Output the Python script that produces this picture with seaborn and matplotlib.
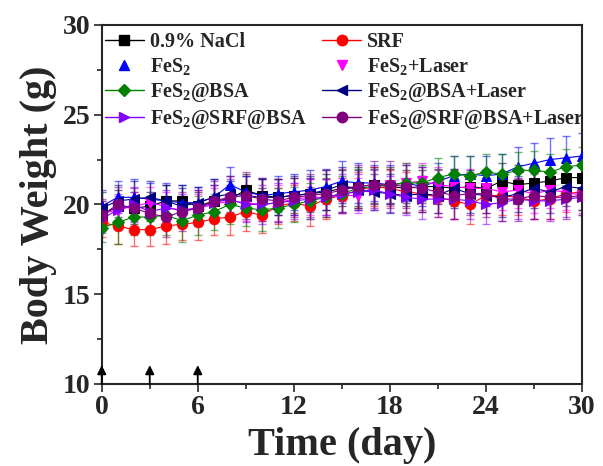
import numpy as np
import pandas as pd
import matplotlib
matplotlib.use('Agg')
import matplotlib.pyplot as plt
import seaborn as sns
from matplotlib.lines import Line2D

days = list(range(31))

labels = ['0.9% NaCl', 'SRF', 'FeS$_2$', 'FeS$_2$+Laser',
          'FeS$_2$@BSA', 'FeS$_2$@BSA+Laser',
          'FeS$_2$@SRF@BSA', 'FeS$_2$@SRF@BSA+Laser']

nacl = [19.4, 19.9, 19.8, 19.9, 20.2, 20.2, 19.9, 20.2, 20.3, 20.8, 20.5,
        20.4, 20.5, 20.6, 20.7, 20.9, 21.0, 21.1, 21.0, 20.9, 21.0,
        21.0, 20.9, 21.0, 20.9, 21.3, 21.1, 21.2, 21.3, 21.5, 21.5]
srf = [19.0, 18.8, 18.6, 18.6, 18.8, 18.9, 19.0, 19.2, 19.3, 19.6, 19.4,
       19.9, 20.1, 19.9, 20.3, 20.5, 20.8, 21.0, 20.9, 20.7, 20.6,
       20.4, 20.2, 20.0, 20.5, 20.5, 20.4, 20.2, 20.3, 20.6, 20.7]
fes2 = [19.9, 20.4, 20.4, 20.3, 20.2, 20.1, 20.1, 20.4, 21.1, 20.7, 20.5,
        20.6, 20.7, 20.8, 21.0, 21.3, 21.2, 21.2, 21.1, 21.2, 21.0,
        21.3, 21.6, 21.7, 21.6, 21.7, 22.1, 22.3, 22.5, 22.6, 22.7]
fes2_laser = [19.5, 19.7, 19.9, 20.1, 19.9, 19.6, 19.8, 20.0, 20.2, 20.1, 20.0,
              20.1, 20.3, 20.4, 20.4, 20.5, 20.5, 21.0, 21.1, 21.2, 21.3,
              21.1, 21.0, 20.9, 20.9, 20.7, 20.8, 20.6, 20.8, 20.7, 20.5]
fes2_bsa = [18.7, 19.0, 19.3, 19.3, 19.4, 19.1, 19.4, 19.6, 20.0, 19.8, 19.7,
            19.8, 20.0, 20.2, 20.4, 20.6, 20.9, 21.0, 21.1, 21.2, 21.2,
            21.5, 21.7, 21.6, 21.8, 21.7, 21.9, 21.9, 21.8, 22.1, 22.2]
fes2_bsa_laser = [19.8, 20.2, 20.3, 20.4, 20.2, 19.9, 20.1, 20.4, 20.6, 20.5, 20.4,
                  20.4, 20.5, 20.6, 20.8, 21.1, 20.8, 20.7, 20.6, 20.5, 20.6,
                  20.5, 20.9, 20.6, 20.5, 20.4, 20.6, 20.9, 20.7, 21.0, 20.9]
fes2_srf_bsa = [19.2, 19.7, 20.0, 19.6, 19.8, 19.7, 19.8, 20.1, 20.3, 20.0, 20.0,
                20.1, 20.2, 20.3, 20.4, 20.6, 20.7, 20.8, 20.6, 20.4, 20.3,
                20.3, 20.3, 20.2, 20.0, 20.1, 20.3, 20.2, 20.2, 20.3, 20.4]
fes2_srf_bsa_laser = [19.4, 20.0, 19.8, 19.5, 19.3, 19.6, 19.8, 20.2, 20.4, 20.5, 20.3,
                      20.2, 20.4, 20.5, 20.6, 20.8, 21.0, 21.1, 21.1, 21.0, 20.9,
                      20.7, 20.5, 20.6, 20.6, 20.3, 20.3, 20.5, 20.4, 20.4, 20.5]

sd_nacl = [0.8, 0.9, 0.9, 0.8, 0.9, 0.9, 0.8, 0.9, 1.0, 0.9, 0.9,
           1.0, 1.0, 0.9, 1.0, 1.0, 1.1, 1.0, 1.0, 1.0, 0.9,
           1.0, 1.0, 0.9, 1.0, 1.0, 1.1, 1.0, 1.0, 1.1, 1.1]
sd_srf = [0.8, 1.0, 0.9, 0.9, 1.0, 0.9, 1.0, 0.9, 1.0, 1.1, 1.0,
          1.0, 1.0, 1.1, 1.1, 1.0, 1.0, 1.1, 1.0, 1.1, 1.0,
          1.1, 1.0, 1.1, 1.0, 1.1, 1.0, 1.0, 1.1, 1.0, 1.0]
sd_fes2 = [0.9, 0.9, 1.0, 0.9, 1.0, 1.0, 0.9, 1.0, 1.0, 0.9, 1.0,
           1.0, 1.0, 1.1, 1.0, 1.1, 1.1, 1.0, 1.1, 1.0, 1.1,
           1.0, 1.1, 1.0, 1.1, 1.1, 1.1, 1.1, 1.2, 1.2, 1.3]
sd_fes2_laser = [0.7, 0.8, 0.8, 0.9, 0.8, 0.9, 0.8, 0.9, 0.9, 1.0, 0.9,
                 1.0, 0.9, 1.0, 1.0, 1.0, 1.0, 1.0, 1.0, 1.1, 1.0,
                 1.0, 1.0, 1.1, 1.0, 1.0, 1.0, 1.1, 1.0, 1.0, 1.0]
sd_fes2_bsa = [0.8, 1.2, 1.0, 1.0, 1.1, 1.2, 1.1, 1.0, 1.1, 1.0, 1.2,
               1.1, 1.0, 1.0, 1.1, 1.0, 1.1, 1.0, 1.0, 1.1, 1.0,
               1.1, 1.0, 1.1, 1.0, 1.1, 1.0, 1.1, 1.0, 1.0, 1.0]
sd_fes2_bsa_laser = [0.9, 0.9, 1.0, 0.9, 0.9, 1.0, 0.9, 1.0, 1.0, 1.1, 1.0,
                     1.0, 1.1, 1.0, 1.1, 1.0, 1.1, 1.0, 1.1, 1.0, 1.0,
                     1.0, 1.1, 1.1, 1.0, 1.1, 1.0, 1.1, 1.2, 1.1, 1.2]
sd_fes2_srf_bsa = [0.8, 0.9, 1.0, 0.9, 1.0, 0.9, 1.0, 1.0, 1.1, 1.0, 1.1,
                   1.1, 1.0, 1.1, 1.0, 1.1, 1.0, 1.1, 1.0, 1.0, 1.1,
                   1.0, 1.1, 1.0, 1.1, 1.0, 1.1, 1.0, 1.1, 1.0, 1.0]
sd_fes2_srf_bsa_laser = [0.9, 1.0, 1.1, 1.0, 1.1, 1.1, 1.0, 1.1, 1.2, 1.3, 1.2,
                         1.2, 1.1, 1.2, 1.3, 1.2, 1.2, 1.3, 1.3, 1.2, 1.2,
                         1.2, 1.3, 1.2, 1.3, 1.2, 1.2, 1.3, 1.2, 1.2, 1.1]

series = [nacl, srf, fes2, fes2_laser, fes2_bsa, fes2_bsa_laser,
          fes2_srf_bsa, fes2_srf_bsa_laser]
errors = [sd_nacl, sd_srf, sd_fes2, sd_fes2_laser, sd_fes2_bsa,
          sd_fes2_bsa_laser, sd_fes2_srf_bsa, sd_fes2_srf_bsa_laser]
colors = ['#000000', '#FF0000', '#0000FF', '#FF00FF',
          '#008000', '#000080', '#8000FF', '#800080']
markers = ['s', 'o', '^', 'v', 'D', '<', '>', 'o']
legend_lines = [True, True, False, False, True, True, True, True]

injection_days = [0, 3, 6]

sns.set_style('ticks')
plt.rcParams['font.family'] = ['Liberation Serif', 'DejaVu Serif']
plt.rcParams['font.weight'] = 'bold'
plt.rcParams['mathtext.default'] = 'regular'

fig = plt.figure(figsize=(6.03, 4.66), dpi=100)
ax = fig.add_axes([0.1687, 0.176, 0.7963, 0.7704])

for vals, err, c, m in zip(series, errors, colors, markers):
    ax.errorbar(days, vals, yerr=err, fmt='none', ecolor=c, elinewidth=1.0,
                capsize=3, capthick=1.0, alpha=0.55, zorder=2)
    ms = 6.5 if m == 'D' else 7.5
    sns.lineplot(x=days, y=vals, color=c, marker=m, markersize=ms,
                 markeredgecolor=c, linewidth=0.8, ax=ax, zorder=3)

for d in injection_days:
    ax.annotate('', xy=(d, 11.05), xytext=(d, 10.0),
                arrowprops=dict(arrowstyle='-|>', color='black', lw=1.3,
                                mutation_scale=13, shrinkA=0, shrinkB=0),
                zorder=5)

ax.set_xlim(0, 30)
ax.set_ylim(10, 30)
ax.set_xticks([0, 6, 12, 18, 24, 30])
ax.set_xticks([3, 9, 15, 21, 27], minor=True)
ax.set_yticks([10, 15, 20, 25, 30])
ax.set_yticks([12.5, 17.5, 22.5, 27.5], minor=True)
ax.tick_params(which='major', direction='out', length=6, width=1.2,
               labelsize=20, pad=2)
ax.tick_params(which='minor', direction='out', length=3.5, width=1.2)
for lab in ax.get_xticklabels() + ax.get_yticklabels():
    lab.set_fontweight('bold')
for sp in ax.spines.values():
    sp.set_linewidth(1.5)
    sp.set_visible(True)

ax.set_xlabel('Time (day)', fontsize=29, fontweight='bold', labelpad=5)
ax.set_ylabel('Body Weight (g)', fontsize=29, fontweight='bold', labelpad=4)

handles = []
for c, m, show, lab in zip(colors, markers, legend_lines, labels):
    handles.append(Line2D([0], [0], color=c, marker=m,
                          markersize=6.5 if m == 'D' else 7.5,
                          markeredgecolor=c,
                          linestyle='-' if show else 'none', linewidth=1.0,
                          label=lab))
# row-major order: matplotlib fills columns first
order = [0, 2, 4, 6, 1, 3, 5, 7]
ax.legend(handles=[handles[i] for i in order], ncol=2, loc='upper left',
          frameon=False, bbox_to_anchor=(0.0, 0.99), borderaxespad=0,
          borderpad=0.18, prop={'size': 14.5, 'weight': 'bold'},
          handlelength=1.9, handletextpad=0.3, columnspacing=0.8,
          labelspacing=0.2)

fig.savefig('out.png', dpi=100)
